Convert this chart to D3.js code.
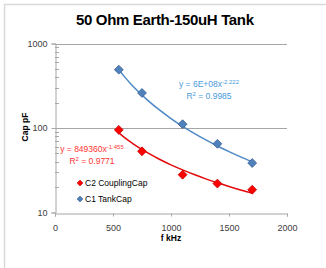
<!DOCTYPE html>
<html>
<head>
<meta charset="utf-8">
<script src="https://cdn.jsdelivr.net/npm/d3@7"></script>
<style>
  body { margin: 0; background: #fff; }
  svg { display: block; font-family: "Liberation Sans", Arial, sans-serif; }
</style>
</head>
<body>
<script>
// data
var freqs = [550, 750, 1100, 1400, 1700];          // f kHz
var c2Coupling = [95, 53, 28, 22, 18.6];            // C2 CouplingCap, pF
var c1Tank = [490, 260, 111, 65, 38.5];             // C1 TankCap, pF
var xTicks = [0, 500, 1000, 1500, 2000];
var yTicks = [10, 100, 1000];
// power trendlines y = a * x^b, as printed on the chart
var c2Fit = [849360, -1.455];
var c1Fit = [6e8, -2.222];
var trendX = [550, 600, 650, 700, 800, 900, 1000, 1100, 1200, 1300, 1400, 1500, 1600, 1700];

var width = 326, height = 268;
var margin = {top: 43.5, right: 39, bottom: 55.5, left: 55};

var svg = d3.select("body").append("svg")
  .attr("width", width)
  .attr("height", height);

// outer chart border (only top/left visible in the crop)
svg.append("rect")
  .attr("x", 4.5).attr("y", 4.5)
  .attr("width", 340).attr("height", 300)
  .attr("fill", "none")
  .attr("stroke", "#d9d9d9")
  .attr("stroke-width", 1.5);

var xScale = d3.scaleLinear().domain([0, 2000]).range([margin.left, width - margin.right]);
var yScale = d3.scaleLog().domain([10, 1000]).range([height - margin.bottom, margin.top]);

// gridlines
svg.append("g")
  .selectAll("line")
  .data(yTicks.slice(1))
  .enter().append("line")
  .attr("x1", xScale(0)).attr("x2", xScale(2000))
  .attr("y1", function(d) { return Math.round(yScale(d)) + 0.5; })
  .attr("y2", function(d) { return Math.round(yScale(d)) + 0.5; })
  .attr("stroke", "#a6a6a6");

// x axis
var xAxis = svg.append("g")
  .attr("transform", "translate(0," + (Math.round(yScale(10)) + 0.5) + ")")
  .call(d3.axisBottom(xScale).tickValues(xTicks).tickSize(3).tickPadding(8).tickFormat(d3.format("d")));

// y axis, major
var yAxis = svg.append("g")
  .attr("transform", "translate(" + (Math.round(xScale(0)) + 0.5) + ",0)")
  .call(d3.axisLeft(yScale).tickValues(yTicks).tickSize(4).tickPadding(4).tickFormat(d3.format("d")));

// y minor ticks (inside)
var minor = [];
[10, 100].forEach(function(dec) {
  for (var k = 2; k <= 9; k++) minor.push(dec * k);
});
svg.append("g")
  .selectAll("line")
  .data(minor)
  .enter().append("line")
  .attr("x1", xScale(0)).attr("x2", xScale(0) + 4)
  .attr("y1", function(d) { return Math.round(yScale(d)) + 0.5; })
  .attr("y2", function(d) { return Math.round(yScale(d)) + 0.5; })
  .attr("stroke", "#a6a6a6");

[xAxis, yAxis].forEach(function(ax) {
  ax.select(".domain").attr("stroke", "#a6a6a6");
  ax.selectAll(".tick line").attr("stroke", "#a6a6a6");
  ax.selectAll("text").attr("font-size", "9px").attr("fill", "#404040");
});

// trendlines
var fitLine = function(fit) {
  return d3.line()
    .x(function(d) { return xScale(d); })
    .y(function(d) { return yScale(fit[0] * Math.pow(d, fit[1])); })
    .curve(d3.curveMonotoneX);
};

svg.append("path").datum(trendX)
  .attr("d", fitLine(c1Fit))
  .attr("fill", "none").attr("stroke", "#4f88c6").attr("stroke-width", 1.5);

svg.append("path").datum(trendX)
  .attr("d", fitLine(c2Fit))
  .attr("fill", "none").attr("stroke", "#e3090b").attr("stroke-width", 1.5);

// markers
var diamond = d3.symbol().type(d3.symbolDiamond2).size(50);

function drawMarkers(vals, fill, stroke) {
  svg.append("g")
    .selectAll("path")
    .data(vals)
    .enter().append("path")
    .attr("d", diamond)
    .attr("transform", function(d, i) { return "translate(" + xScale(freqs[i]) + "," + yScale(d) + ")"; })
    .attr("fill", fill)
    .attr("stroke", stroke)
    .attr("stroke-width", 0.8);
}
drawMarkers(c1Tank, "#4f81bd", "#385d8a");
drawMarkers(c2Coupling, "#ff0000", "#c00000");

// title
svg.append("text")
  .attr("x", 165).attr("y", 25)
  .attr("text-anchor", "middle")
  .attr("font-size", "15px")
  .attr("font-weight", "bold")
  .attr("fill", "#000")
  .attr("textLength", 178)
  .text("50 Ohm Earth-150uH Tank");

// axis titles
svg.append("text")
  .attr("x", 171).attr("y", 241)
  .attr("text-anchor", "middle")
  .attr("font-size", "8.5px")
  .attr("font-weight", "bold")
  .attr("fill", "#000")
  .text("f kHz");

svg.append("text")
  .attr("transform", "translate(28,127) rotate(-90)")
  .attr("text-anchor", "middle")
  .attr("font-size", "8.5px")
  .attr("font-weight", "bold")
  .attr("fill", "#000")
  .text("Cap pF");

// trendline equations
function equation(x, y, coef, exp, r2, color, anchor) {
  var t = svg.append("text")
    .attr("x", x).attr("y", y)
    .attr("text-anchor", anchor)
    .attr("font-size", "8.5px")
    .attr("fill", color);
  t.append("tspan").text("y = " + coef + "x");
  t.append("tspan").attr("dy", -3).attr("font-size", "6px").text(exp);
  var r = svg.append("text")
    .attr("x", x).attr("y", y + 12)
    .attr("text-anchor", anchor)
    .attr("font-size", "8.5px")
    .attr("fill", color);
  r.append("tspan").text("R");
  r.append("tspan").attr("dy", -3).attr("font-size", "6px").text("2");
  r.append("tspan").attr("dy", 3).text(" = " + r2);
}
equation(209, 87, "6E+08", "-2.222", "0.9985", "#4a9ad8", "middle");
equation(92, 152, "849360", "-1.455", "0.9771", "#ff3333", "middle");

// legend
var legend = [
  {name: "C2 CouplingCap", fill: "#ff0000", stroke: "#c00000"},
  {name: "C1 TankCap", fill: "#4f81bd", stroke: "#385d8a"}
];
var lg = svg.append("g")
  .selectAll("g")
  .data(legend)
  .enter().append("g")
  .attr("transform", function(d, i) { return "translate(80," + (183 + i * 16) + ")"; });
lg.append("path")
  .attr("d", d3.symbol().type(d3.symbolDiamond2).size(22))
  .attr("fill", function(d) { return d.fill; })
  .attr("stroke", function(d) { return d.stroke; })
  .attr("stroke-width", 0.6);
lg.append("text")
  .attr("x", 5).attr("y", 3)
  .attr("font-size", "8.5px")
  .attr("fill", "#000")
  .text(function(d) { return d.name; });
</script>
</body>
</html>
